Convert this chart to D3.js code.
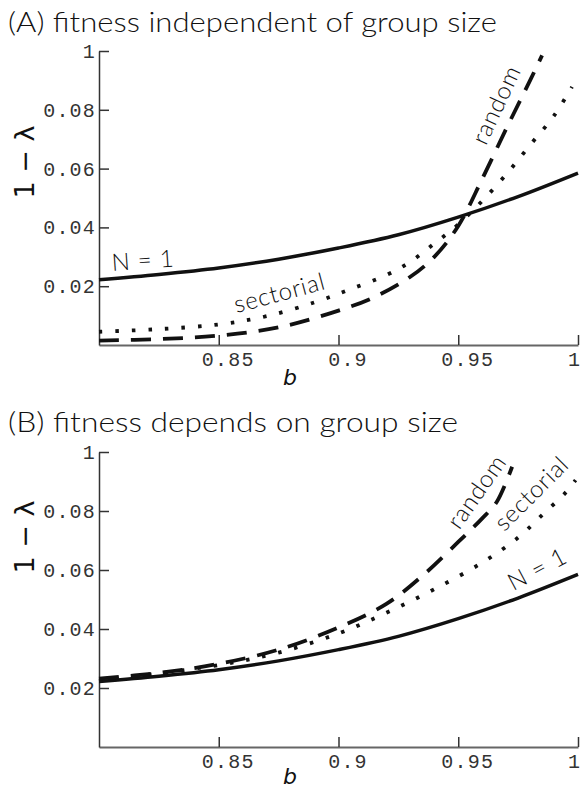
<!DOCTYPE html>
<html>
<head>
<meta charset="utf-8">
<script src="https://cdn.jsdelivr.net/npm/d3@7"></script>
<style>
  body { margin: 0; background: #fff; }
  svg { display: block; }
</style>
</head>
<body>
<div id="plot"></div>
<script>
// data

  const soloB = [0.8, 0.825, 0.85, 0.875, 0.9, 0.925, 0.95, 0.975, 1];
  const soloValues = [0.0222, 0.0240, 0.0262, 0.0292, 0.0330, 0.0375, 0.0435, 0.0505, 0.0585];

  // panel A
  const randomAB = [0.8, 0.825, 0.85, 0.875, 0.9, 0.915, 0.93, 0.94, 0.95, 0.96, 0.97, 0.98, 0.985];
  const randomAValues = [0.0015, 0.0020, 0.0032, 0.0060, 0.0117, 0.0163, 0.0232, 0.0300, 0.0405, 0.0565, 0.0735, 0.0900, 0.0985];
  const sectorialAB = [0.8, 0.825, 0.85, 0.87, 0.89, 0.905, 0.92, 0.93, 0.94, 0.95, 0.96, 0.97, 0.98, 0.99, 0.9975];
  const sectorialAValues = [0.0045, 0.0054, 0.0070, 0.0098, 0.0145, 0.0190, 0.0238, 0.0283, 0.0345, 0.0410, 0.0490, 0.0580, 0.0680, 0.0780, 0.0878];

  // panel B
  const randomBB = [0.8, 0.825, 0.85, 0.875, 0.9, 0.92, 0.935, 0.95, 0.96, 0.966, 0.9725];
  const randomBValues = [0.0232, 0.0251, 0.0282, 0.0330, 0.0405, 0.0485, 0.0580, 0.0695, 0.0775, 0.0830, 0.0950];
  const sectorialBB = [0.8, 0.85, 0.875, 0.9, 0.92, 0.94, 0.96, 0.975, 0.985, 0.995, 0.999];
  const sectorialBValues = [0.0225, 0.0278, 0.0320, 0.0385, 0.0455, 0.0535, 0.0625, 0.0710, 0.0786, 0.0864, 0.0905];

  const xTicks = [0.85, 0.9, 0.95, 1];
  const xTickLabels = ["0.85", "0.9", "0.95", "1"];
  const yTicks = [0.02, 0.04, 0.06, 0.08, 0.1];
  const yTickLabels = ["0.02", "0.04", "0.06", "0.08", "1"];

  const w = 583;
  const h = 791;

  const xScale = d3.scaleLinear()
      .domain([0.8, 1])
      .range([99, 578]);

  const svg = d3.select("#plot")
    .append("svg")
      .attr("width", w)
      .attr("height", h);

  const zip = (bs, vs) => bs.map((b, i) => ({b: b, v: vs[i]}));

  const panels = [
    {
      title: "(A)  fitness independent of group size",
      titleY: 32,
      titleLen: 489,
      yRange: [345, 51],
      random: zip(randomAB, randomAValues),
      sectorial: zip(sectorialAB, sectorialAValues),
      labels: [
        {text: "N = 1", b: 0.8055, v: 0.0252, rot: -4, anchor: "start"},
        {text: "sectorial", b: 0.8763, v: 0.0150, rot: -15, anchor: "middle"},
        {text: "random", b: 0.969, v: 0.0805, rot: -65, anchor: "middle"}
      ],
      bY: 385,
      lambdaY: 162
    },
    {
      title: "(B)  fitness depends on group size",
      titleY: 432,
      titleLen: 450,
      yRange: [747, 452],
      random: zip(randomBB, randomBValues),
      sectorial: zip(sectorialBB, sectorialBValues),
      labels: [
        {text: "random", b: 0.9605, v: 0.0850, rot: -55, anchor: "middle"},
        {text: "sectorial", b: 0.983, v: 0.0840, rot: -45, anchor: "middle"},
        {text: "N = 1", b: 0.9846, v: 0.0578, rot: -28, anchor: "middle"}
      ],
      bY: 784,
      lambdaY: 537
    }
  ];

  panels.forEach(p => {

    const yScale = d3.scaleLinear()
        .domain([0, 0.1])
        .range(p.yRange);

    const line = d3.line()
        .x(d => xScale(d.b))
        .y(d => yScale(d.v))
        .curve(d3.curveCatmullRom.alpha(0.5));

    // title

    svg.append("text")
        .attr("x", 8)
        .attr("y", p.titleY)
        .attr("font-family", "Lato, 'DejaVu Sans', sans-serif")
        .attr("font-weight", 300)
        .attr("font-size", 27)
        .attr("textLength", p.titleLen)
        .attr("lengthAdjust", "spacingAndGlyphs")
        .attr("fill", "#111")
        .text(p.title);

    // axes

    const xAxis = d3.axisBottom(xScale)
        .tickValues(xTicks)
        .tickFormat((d, i) => xTickLabels[i])
        .tickSizeInner(-10)
        .tickSizeOuter(0)
        .tickPadding(7);

    const yAxis = d3.axisLeft(yScale)
        .tickValues(yTicks)
        .tickFormat((d, i) => yTickLabels[i])
        .tickSizeInner(-10)
        .tickSizeOuter(0)
        .tickPadding(3);

    const gx = svg.append("g")
        .attr("transform", `translate(0, ${p.yRange[0]})`)
        .call(xAxis);

    gx.selectAll("text")
        .attr("dx", (d, i) => xTickLabels[i].length > 1 ? 9 : -4);

    const gy = svg.append("g")
        .attr("transform", `translate(${xScale(0.8)}, 0)`)
        .call(yAxis);

    [gx, gy].forEach(g => {
      g.selectAll("path, line")
          .attr("stroke", "#333")
          .attr("stroke-width", 1.5);
      g.selectAll("text")
          .attr("font-family", "'Liberation Mono', 'DejaVu Sans Mono', monospace")
          .attr("font-size", 20)
          .attr("letter-spacing", 1.2)
          .attr("fill", "#333");
    });
    gx.select(".domain").attr("stroke", "#666").attr("stroke-width", 2);

    // curves

    svg.append("path")
        .datum(zip(soloB, soloValues))
        .attr("d", line)
        .attr("fill", "none")
        .attr("stroke", "#111")
        .attr("stroke-width", 3.5);

    svg.append("path")
        .datum(p.sectorial)
        .attr("d", line)
        .attr("fill", "none")
        .attr("stroke", "#111")
        .attr("stroke-width", 3.8)
        .attr("stroke-dasharray", "3.5,13");

    svg.append("path")
        .datum(p.random)
        .attr("d", line)
        .attr("fill", "none")
        .attr("stroke", "#111")
        .attr("stroke-width", 3.8)
        .attr("stroke-dasharray", "20,12");

    // curve labels

    p.labels.forEach(l => {
      svg.append("text")
          .attr("transform", `translate(${xScale(l.b)}, ${yScale(l.v)}) rotate(${l.rot})`)
          .attr("text-anchor", l.anchor)
          .attr("font-family", "Lato, 'DejaVu Sans', sans-serif")
          .attr("font-weight", 300)
          .attr("font-size", 24)
          .attr("letter-spacing", 0.8)
          .attr("fill", "#111")
          .text(l.text);
    });

    // axis titles

    svg.append("text")
        .attr("x", 290)
        .attr("y", p.bY)
        .attr("text-anchor", "middle")
        .attr("font-family", "'DejaVu Sans', sans-serif")
        .attr("font-style", "italic")
        .attr("font-size", 22)
        .attr("fill", "#111")
        .text("b");

    svg.append("text")
        .attr("transform", `translate(34, ${p.lambdaY}) rotate(-90)`)
        .attr("text-anchor", "middle")
        .attr("font-family", "'DejaVu Sans', sans-serif")
        .attr("font-size", 27)
        .attr("fill", "#111")
        .text("1 − λ");
  });
</script>
</body>
</html>
